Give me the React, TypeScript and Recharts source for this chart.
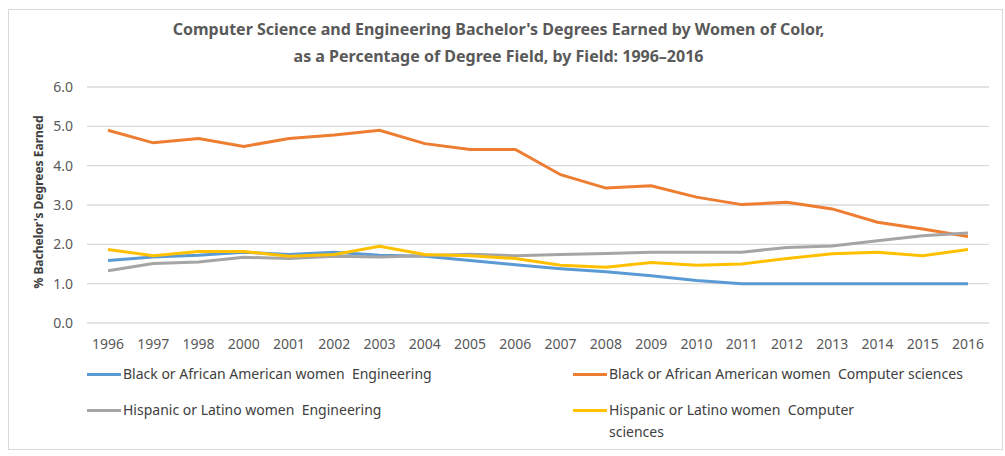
import React from "react";
import {
  LineChart,
  Line,
  XAxis,
  YAxis,
  CartesianGrid,
} from "recharts";

// Years on the axis (1999 is not in the source data)
const years = [
  "1996", "1997", "1998", "2000", "2001", "2002", "2003", "2004", "2005", "2006",
  "2007", "2008", "2009", "2010", "2011", "2012", "2013", "2014", "2015", "2016",
];

const blackEngineering = [
  1.59, 1.68, 1.72, 1.8, 1.74, 1.8, 1.72, 1.7, 1.59, 1.48,
  1.38, 1.3, 1.2, 1.08, 1.0, 1.0, 1.0, 1.0, 1.0, 1.0,
];
const blackComputer = [
  4.9, 4.58, 4.69, 4.49, 4.69, 4.78, 4.9, 4.56, 4.41, 4.41,
  3.77, 3.43, 3.49, 3.2, 3.01, 3.07, 2.9, 2.56, 2.39, 2.2,
];
const hispanicEngineering = [
  1.33, 1.51, 1.55, 1.67, 1.64, 1.7, 1.68, 1.71, 1.75, 1.71,
  1.74, 1.77, 1.8, 1.8, 1.8, 1.92, 1.96, 2.09, 2.22, 2.29,
];
const hispanicComputer = [
  1.87, 1.71, 1.82, 1.82, 1.7, 1.74, 1.95, 1.74, 1.71, 1.64,
  1.47, 1.42, 1.54, 1.47, 1.5, 1.64, 1.76, 1.8, 1.71, 1.87,
];

const yTicks = [0, 1, 2, 3, 4, 5, 6];

const series = [
  { key: "blackEng", name: "Black or African American women  Engineering", color: "#5B9BD5", values: blackEngineering },
  { key: "blackCs", name: "Black or African American women  Computer sciences", color: "#ED7D31", values: blackComputer },
  { key: "hispEng", name: "Hispanic or Latino women  Engineering", color: "#A5A5A5", values: hispanicEngineering },
  { key: "hispCs", name: "Hispanic or Latino women  Computer sciences", color: "#FFC000", values: hispanicComputer },
];

const data = years.map((year, i) => {
  const row: Record<string, any> = { year };
  series.forEach((s) => {
    row[s.key] = s.values[i];
  });
  return row;
});

const FONT = "'Noto Sans', 'Open Sans', sans-serif";
const TEXT = "#595959";

// Two-column legend like the Excel original
const ChartLegend = () => (
  <div
    style={{
      position: "absolute",
      left: 87,
      top: 363,
      display: "grid",
      gridTemplateColumns: "486px 400px",
      rowGap: 14,
      fontFamily: FONT,
      fontSize: 14,
      color: "#404040",
    }}
  >
    {series.map((s, index) => (
      <div key={`legend-${s.key}`} style={{ display: "flex", alignItems: "flex-start" }}>
        <div
          style={{
            width: 34,
            height: 3,
            background: s.color,
            marginTop: 10,
            marginRight: 2,
            flexShrink: 0,
          }}
        />
        <span style={{ maxWidth: index === 3 ? 250 : 400, lineHeight: "22px", whiteSpace: "pre-wrap" }}>
          {s.name}
        </span>
      </div>
    ))}
  </div>
);

export default function App() {
  return (
    <div
      style={{
        position: "absolute",
        left: 0,
        top: 0,
        width: 1005,
        height: 456,
        background: "#fff",
        fontFamily: FONT,
      }}
    >
      <div
        style={{
          position: "absolute",
          left: 8,
          top: 9,
          width: 995,
          height: 441,
          border: "1px solid #d9d9d9",
          boxSizing: "border-box",
        }}
      />
      <div
        style={{
          position: "absolute",
          left: 0,
          top: 16,
          width: 997,
          textAlign: "center",
          fontWeight: 700,
          fontSize: 16,
          lineHeight: "27px",
          color: TEXT,
        }}
      >
        Computer Science and Engineering Bachelor's Degrees Earned by Women of Color,
        <br />
        as a Percentage of Degree Field, by Field: 1996–2016
      </div>
      <div
        style={{
          position: "absolute",
          left: 38,
          top: 202,
          transform: "translate(-50%, -50%) rotate(-90deg)",
          whiteSpace: "nowrap",
          fontWeight: 700,
          fontSize: 12,
          color: "#404040",
        }}
      >
        % Bachelor's Degrees Earned
      </div>
      <div style={{ position: "absolute", left: 0, top: 0 }}>
        <LineChart
          width={1005}
          height={456}
          data={data}
          margin={{ top: 87, right: 16, left: 27, bottom: 103 }}
        >
          <CartesianGrid vertical={false} stroke="#d9d9d9" strokeWidth={1.3} />
          <XAxis
            dataKey="year"
            axisLine={false}
            tickLine={false}
            tickSize={0}
            tickMargin={16}
            height={30}
            interval={0}
            padding={{ left: 21, right: 21 }}
            tick={{ fill: TEXT, fontSize: 14, fontFamily: FONT }}
          />
          <YAxis
            domain={[0, 6]}
            ticks={yTicks}
            width={60}
            axisLine={false}
            tickLine={false}
            tickSize={0}
            tickMargin={14}
            tickFormatter={(v: number) => v.toFixed(1)}
            tick={{ fill: TEXT, fontSize: 14, fontFamily: FONT }}
          />
          {series.map((s) => (
            <Line
              key={s.key}
              type="linear"
              dataKey={s.key}
              name={s.name}
              stroke={s.color}
              strokeWidth={3}
              dot={false}
              activeDot={false}
              isAnimationActive={false}
            />
          ))}
        </LineChart>
      </div>
      <ChartLegend />
    </div>
  );
}
